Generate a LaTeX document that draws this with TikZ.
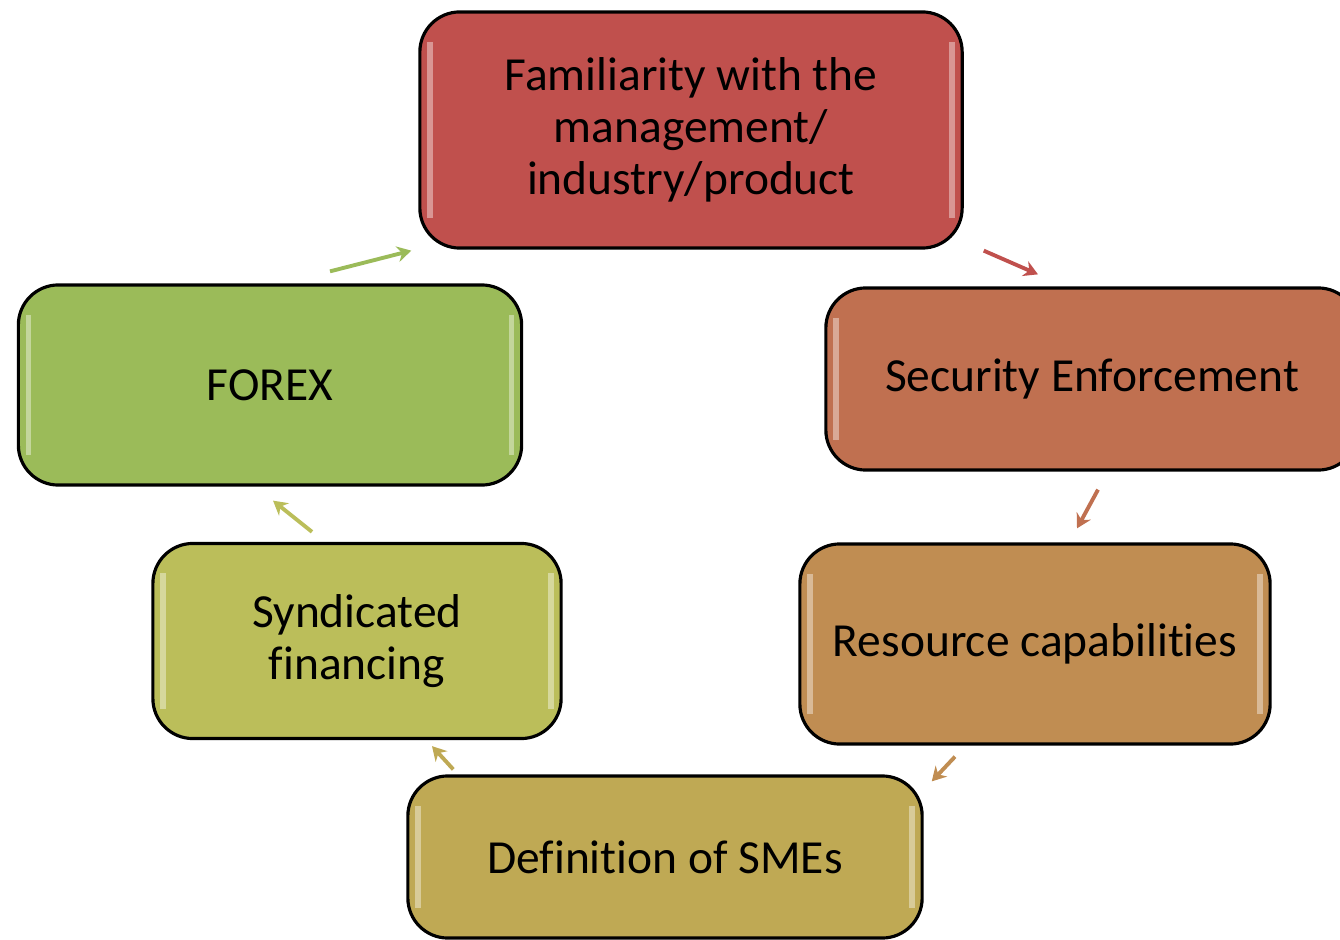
\documentclass[tikz,border=0pt]{standalone}
\usepackage{fontspec}
\setmainfont[Ligatures=NoCommon]{Carlito}
\usetikzlibrary{calc,arrows.meta}

\definecolor{famred}{HTML}{C0504D}
\definecolor{secred}{HTML}{C07050}
\definecolor{resbrown}{HTML}{C08D52}
\definecolor{defgold}{HTML}{BFA954}
\definecolor{synlime}{HTML}{BBBE5A}
\definecolor{forexgreen}{HTML}{9BBB59}

\tikzstyle{stage}=[rectangle, rounded corners=0.4cm, draw=black,
                   line width=0.9pt, inner sep=0pt, align=center,
                   font=\fontsize{13.5}{14.8}\selectfont,
                   path picture={
                     \draw[white, opacity=0.4, line width=1.6pt]
                       ([xshift=0.1cm,yshift=-0.3cm]path picture bounding box.north west)
                       -- ([xshift=0.1cm,yshift=0.3cm]path picture bounding box.south west)
                       ([xshift=-0.1cm,yshift=-0.3cm]path picture bounding box.north east)
                       -- ([xshift=-0.1cm,yshift=0.3cm]path picture bounding box.south east);
                   }]
\tikzstyle{step arrow}=[line width=1.1pt, -{Stealth[length=4pt,width=4.5pt]}]

\begin{document}
\begin{tikzpicture}[x=0.01cm, y=-0.01cm]
    \clip (0,0) rectangle (1340,940);
    % the six stages, going round clockwise
    \node[stage, fill=famred, minimum width=5.42cm, minimum height=2.36cm]
        (fam) at (691,130) {Familiarity with the\\management/\\industry/product};
    \node[stage, fill=secred, minimum width=5.32cm, minimum height=1.82cm]
        (sec) at (1092,379) {Security Enforcement};
    \node[stage, fill=resbrown, minimum width=4.70cm, minimum height=2.00cm]
        (res) at (1035,644) {Resource capabilities};
    \node[stage, fill=defgold, minimum width=5.14cm, minimum height=1.62cm]
        (def) at (665,857) {Definition of SMEs};
    \node[stage, fill=synlime, minimum width=4.08cm, minimum height=1.95cm]
        (syn) at (357,641) {Syndicated\\financing};
    \node[stage, fill=forexgreen, minimum width=5.03cm, minimum height=2.00cm]
        (forex) at (270,385) {FOREX};

    % short arrows between neighbouring boxes
    \draw[step arrow, forexgreen] ($(forex.north)+(60,-12)$) -- ($(fam.south west)+(-7,1)$);
    \draw[step arrow, famred]     ($(fam.south east)+(20,1)$) -- ($(sec.north)+(-54,-12)$);
    \draw[step arrow, secred]     ($(sec.south)+(6,18)$)      -- ($(res.north)+(42,-14)$);
    \draw[step arrow, resbrown]   ($(res.south)+(-80,11)$)    -- ($(def.north east)+(8,7)$);
    \draw[step arrow, defgold]    ($(def.north west)+(47,-5)$) -- ($(syn.south)+(75,6)$);
    \draw[step arrow, synlime]    ($(syn.north)+(-45,-10)$)   -- ($(forex.south)+(3,14)$);
\end{tikzpicture}
\end{document}
